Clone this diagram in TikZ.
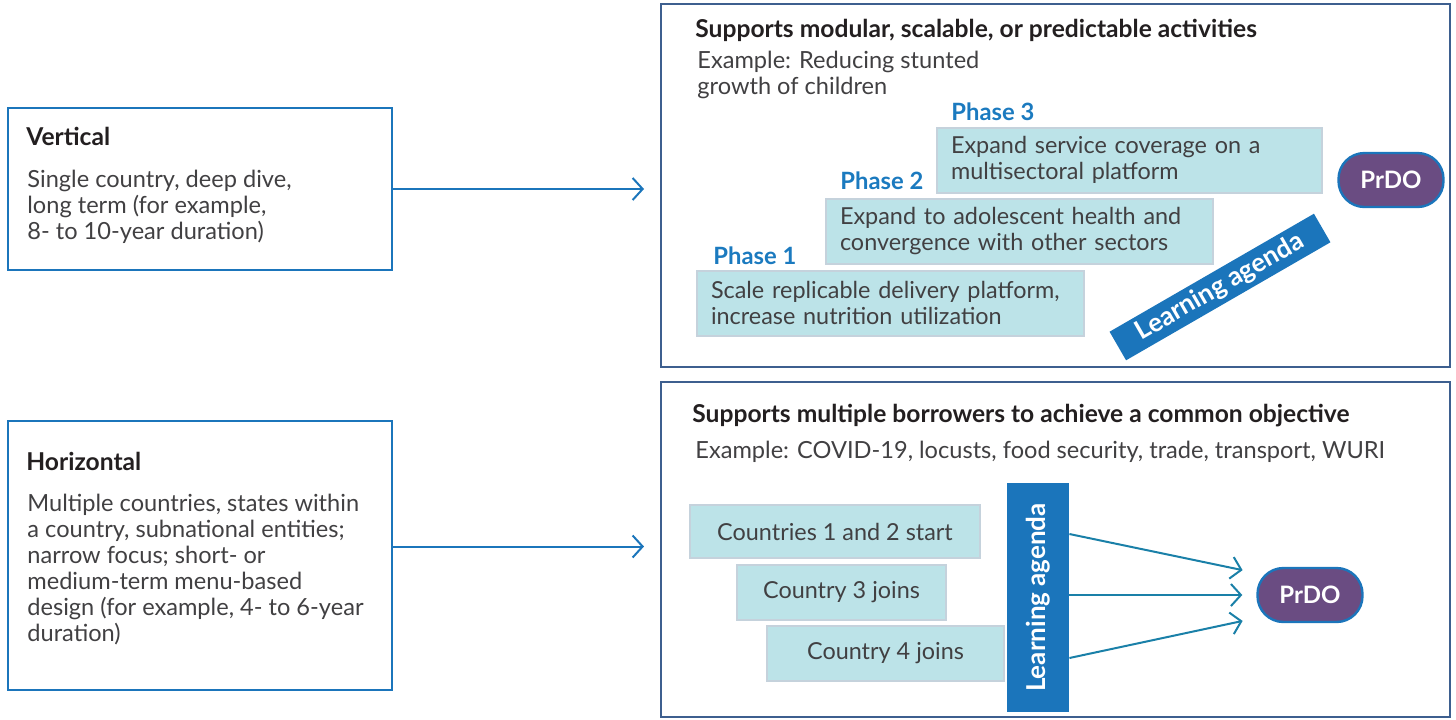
\documentclass[tikz,border=0pt]{standalone}
\usepackage{fontspec}
\setmainfont{Lato}
\usetikzlibrary{arrows.meta,fit}
\definecolor{lineblue}{HTML}{1B75BB}
\definecolor{frameblue}{HTML}{3D5F8F}
\definecolor{arrteal}{HTML}{1A80A8}
\definecolor{phaseblue}{HTML}{1B7ABF}
\definecolor{boxcyan}{HTML}{BCE3E8}
\definecolor{boxedge}{HTML}{C5D2DC}
\definecolor{prdo}{HTML}{6A4C82}
\definecolor{bodygray}{HTML}{414042}
\definecolor{titleblack}{HTML}{231F20}
\begin{document}
\begin{tikzpicture}[x=0.5pt,y=-0.5pt,
	body/.style={inner sep=0pt,align=left,text=bodygray,font=\fontsize{11.8}{13}\selectfont},
	title/.style={inner sep=0pt,text=titleblack,font=\fontsize{12.3}{14}\selectfont\bfseries},
	phase/.style={inner sep=0pt,text=phaseblue,font=\fontsize{11.9}{14}\selectfont\bfseries},
	stepbox/.style={draw=boxedge,line width=1pt,fill=boxcyan,inner xsep=7pt,align=left,text=bodygray,font=\fontsize{11.7}{13}\selectfont},
	agenda/.style={fill=lineblue,text=white,font=\fontsize{13}{15}\selectfont\bfseries},
	prdobox/.style={draw=lineblue,line width=1.2pt,fill=prdo,text=white,rounded corners=13pt,minimum width=52.5pt,minimum height=27pt,font=\fontsize{12}{14}\selectfont\bfseries},
	>={Straight Barb[length=5pt,width=11pt]}]
		
		\useasboundingbox (0,0) rectangle (1456,719);
		
		% left column
		\node[draw=lineblue,line width=1pt,inner sep=0pt,fit={(8,108)(392,270)}] (vert) {};
		\node[title,anchor=west] (verttitle) at (26,136) {Vertical};
		\node[body,anchor=north west] (verttext) at (27,170) {Single country, deep dive,\\long term (for example,\\8- to 10-year duration)};
		
		\node[draw=lineblue,line width=1pt,inner sep=0pt,fit={(8,421)(392,690)}] (horiz) {};
		\node[title,anchor=west] (horiztitle) at (26,461) {Horizontal};
		\node[body,anchor=north west] (horiztext) at (27,494) {Multiple countries, states within\\a country, subnational entities;\\narrow focus; short- or\\medium-term menu-based\\design (for example, 4- to 6-year\\duration)};
		
		% right column
		\node[draw=frameblue,line width=1pt,inner sep=0pt,fit={(661,4)(1450,367)}] (modbox) {};
		\node[title,anchor=west] (modtitle) at (695,30) {Supports modular, scalable, or predictable activities};
		\node[body,anchor=north west] (modtext) at (697,51) {Example: Reducing stunted\\growth of children};
		
		\node[stepbox,minimum width=192.5pt,minimum height=32.5pt,text width=178.5pt] (ph3) at (1129.5,160) {Expand service coverage on a\\multisectoral platform};
		\node[stepbox,minimum width=193.5pt,minimum height=32.5pt,text width=179.5pt] (ph2) at (1019.5,231) {Expand to adolescent health and\\convergence with other sectors};
		\node[stepbox,minimum width=193.5pt,minimum height=32.5pt,text width=179.5pt] (ph1) at (890.5,303) {Scale replicable delivery platform,\\increase nutrition utilization};
		\node[phase,anchor=west] (ph3label) at (951,112) {Phase 3};
		\node[phase,anchor=west] (ph2label) at (840,181) {Phase 2};
		\node[phase,anchor=west] (ph1label) at (713,256) {Phase 1};
		
		\node[agenda,rotate=30,minimum width=118pt,minimum height=16.5pt,inner sep=0pt] (agendaband) at (1220,287) {Learning agenda};
		\node[prdobox] (prdotop) at (1391,180) {PrDO};
		
		\node[draw=frameblue,line width=1pt,inner sep=0pt,fit={(661,382)(1450,717)}] (multbox) {};
		\node[title,anchor=west] (multtitle) at (692,416) {Supports multiple borrowers to achieve a common objective};
		\node[body,anchor=west] (multtext) at (695,452) {Example: COVID-19, locusts, food security, trade, transport, WURI};
		
		\node[stepbox,align=center,minimum width=145pt,minimum height=26.5pt] (c12) at (835,531.5) {Countries 1 and 2 start};
		\node[stepbox,align=center,minimum width=104.5pt,minimum height=27.5pt] (c3) at (841.5,592.5) {Country 3 joins};
		\node[stepbox,align=center,minimum width=118.5pt,minimum height=27.5pt] (c4) at (885.5,653.5) {Country 4 joins};
		
		\node[agenda,rotate=90,minimum width=114.5pt,minimum height=31pt,inner sep=0pt] (agendabar) at (1038,597.5) {Learning agenda};
		\node[prdobox] (prdobot) at (1310,595) {PrDO};
		
		% connectors
		\draw[lineblue,line width=1pt,->,shorten >=8pt] (vert.east) -- (modbox.west |- vert.east);
		\draw[lineblue,line width=1pt,->,shorten >=8pt] ([yshift=4.5pt]horiz.east) -- ([yshift=4.5pt]horiz.east -| multbox.west);
		\draw[arrteal,line width=1pt,->,shorten >=7pt] ([yshift=30.5pt]agendabar.south |- prdobot.west) -- ([yshift=11pt]prdobot.west);
		\draw[arrteal,line width=1pt,->,shorten >=7pt] (agendabar.south |- prdobot.west) -- (prdobot.west);
		\draw[arrteal,line width=1pt,->,shorten >=7pt] ([yshift=-31.5pt]agendabar.south |- prdobot.west) -- ([yshift=-11.5pt]prdobot.west);
		\end{tikzpicture}
\end{document}
